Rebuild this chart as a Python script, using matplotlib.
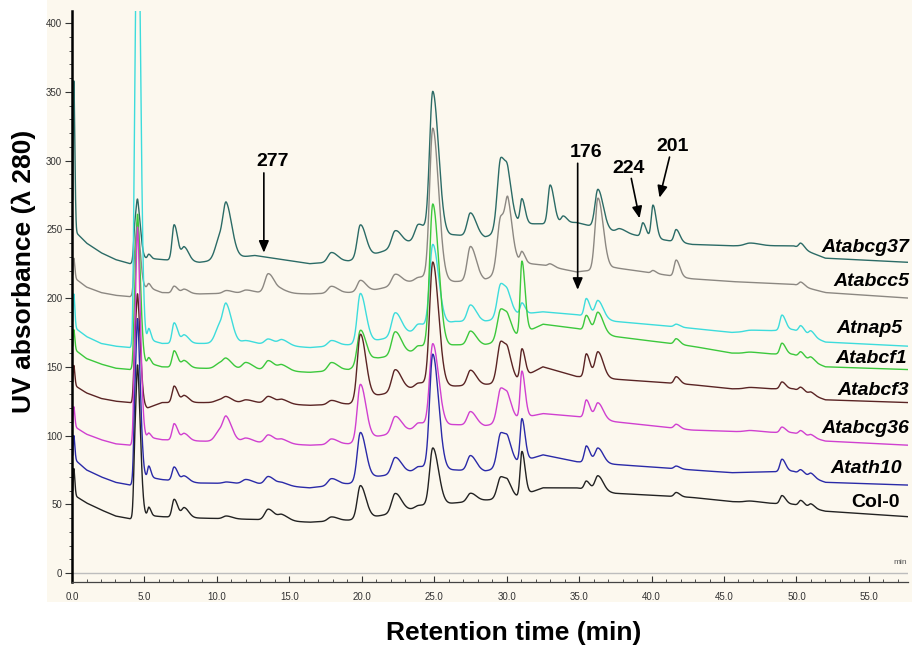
import numpy as np
import matplotlib.pyplot as plt
from matplotlib.ticker import MultipleLocator, FormatStrFormatter
from matplotlib.patches import Rectangle

plt.rcParams['font.family'] = ['Liberation Sans', 'DejaVu Sans']

# --------------------
# Data (retention time in min, UV absorbance)
# --------------------
samples = ["Atabcg37", "Atabcc5", "Atnap5", "Atabcf1", "Atabcf3", "Atabcg36", "Atath10", "Col-0"]

# shared peak retention times and widths (min)
peak_times = [0.12, 4.35, 4.55, 5.3, 7.05, 7.75, 10.2, 10.65, 12.0, 13.55, 14.5, 17.9,
              19.9, 22.3, 23.9, 24.9, 27.5, 29.6, 30.1, 31.05, 33.0, 33.9, 35.5, 36.3,
              37.8, 39.4, 40.1, 41.7, 46.8, 49.0, 50.3, 51.0]
peak_sigmas = [0.04, 0.09, 0.11, 0.08, 0.14, 0.17, 0.3, 0.22, 0.25, 0.24, 0.24, 0.24,
               0.21, 0.24, 0.24, 0.22, 0.22, 0.24, 0.17, 0.12, 0.15, 0.14, 0.14, 0.2,
               0.24, 0.12, 0.12, 0.14, 0.35, 0.14, 0.14, 0.14]

# baseline (valley) levels at these times
base_times = [0.25, 1.0, 2.0, 3.0, 4.0, 5.2, 6.2, 8.8, 12.6, 16.4, 19.1, 20.9, 24.3,
              26.4, 28.5, 30.7, 32.5, 34.8, 37.5, 42.8, 45.5, 49.8, 52.0, 57.7]

base_abcg37 = [248, 240, 233, 228, 225, 229, 228, 226, 231, 225, 227, 232, 244,
               246, 244, 254, 254, 255, 248, 239, 238, 238, 229, 226]
base_abcc5 = [214, 208, 204, 202, 201, 208, 204, 203, 204, 203, 204, 206, 214,
              212, 213, 226, 224, 219, 222, 214, 212, 210, 204, 200]
base_nap5 = [178, 172, 167, 165, 164, 170, 167, 167, 167, 164, 166, 169, 177,
             183, 183, 188, 190, 188, 183, 178, 175, 177, 168, 165]
base_abcf1 = [162, 156, 152, 149, 148, 153, 150, 149, 148, 146, 148, 156, 162,
              166, 166, 172, 181, 178, 172, 165, 160, 159, 150, 148]
base_abcf3 = [136, 131, 127, 125, 124, 120, 124, 124, 124, 122, 123, 129, 136,
              136, 137, 140, 150, 143, 141, 137, 134, 134, 126, 124]
base_abcg36 = [106, 101, 97, 94, 93, 99, 97, 96, 95, 93, 94, 99, 106,
               108, 107, 112, 116, 114, 110, 104, 103, 102, 96, 93]
base_ath10 = [82, 75, 70, 66, 64, 70, 68, 65.5, 65, 62, 65, 70, 75,
              75, 74, 80, 86, 81, 79, 75, 73, 74, 66, 64]
base_col0 = [56, 51, 46, 41.5, 39.5, 42, 41, 40, 39, 37, 38.5, 41, 48,
             51, 53, 55, 62, 62, 58, 55, 52, 50, 45, 41]

# peak heights above baseline, one per peak time
amp_abcg37 = [110, 25, 32, 3, 26, 10, 16, 30, 0, 0, 0, 7,
              24, 12, 11, 105, 17, 53, 16, 18, 28, 5, 0, 28,
              3, 10, 24, 9, 2, 0, 4, 0]
amp_abcc5 = [15, 28, 36, 3, 5, 3, 0, 2, 2, 14, 2, 5,
             8, 8, 2, 110, 25, 40, 30, 8, 2, 0, 0, 52,
             0, 0, 2, 12, 0, 0, 3, 0]
amp_nap5 = [25, 150, 300, 8, 15, 6, 13, 20, 2, 4, 4, 4,
            36, 17, 5, 60, 12, 25, 6, 8, 0, 0, 13, 13,
            0, 0, 0, 2, 1, 11, 5, 4]
amp_abcf1 = [15, 50, 85, 4, 12, 5, 4, 5, 5, 7, 4, 6,
             25, 17, 4, 105, 10, 23, 6, 53, 0, 0, 11, 15,
             0, 0, 0, 4, 1, 8, 4, 3]
amp_abcf3 = [15, 40, 60, 0, 12, 5, 2, 3, 2, 5, 3, 3,
             48, 16, 3, 90, 11, 30, 9, 21, 0, 0, 17, 19,
             0, 0, 0, 5, 1, 5, 3, 2]
amp_abcg36 = [15, 70, 120, 3, 12, 5, 8, 13, 3, 6, 3, 4,
              41, 12, 4, 60, 10, 25, 7, 34, 0, 0, 13, 12,
              0, 0, 0, 3, 1, 4, 3, 2]
amp_ath10 = [18, 55, 90, 8, 10, 4, 0, 1, 3, 6, 2, 5,
             35, 12, 3, 84, 11, 25, 8, 31, 0, 0, 12, 11,
             0, 0, 0, 2, 0, 9, 3, 3]
amp_col0 = [20, 50, 85, 6, 13, 7, 0, 2, 0, 8, 4, 3,
            24, 14, 2, 42, 6, 16, 5, 32, 0, 0, 6, 11,
            0, 0, 0, 3, 1, 6, 4, 3]

baselines = [base_abcg37, base_abcc5, base_nap5, base_abcf1,
             base_abcf3, base_abcg36, base_ath10, base_col0]
amplitudes = [amp_abcg37, amp_abcc5, amp_nap5, amp_abcf1,
              amp_abcf3, amp_abcg36, amp_ath10, amp_col0]

colors = ["#2B6B66", "#8C8882", "#3DDCDC", "#3CC83C",
          "#5A2424", "#D040D0", "#2A2AA8", "#222222"]
label_y = [237, 212, 178, 156, 133, 105, 76, 51]
label_x = [57.8, 57.8, 57.3, 57.6, 57.8, 57.8, 57.3, 57.1]

# arrows: label, text position, arrow tail, arrow tip
marks = ["277", "176", "224", "201"]
mark_text = [(13.86, 299), (35.5, 306), (38.4, 294.5), (41.45, 310)]
mark_tail = [(13.24, 291), (34.9, 298), (38.6, 287), (41.24, 302.5)]
mark_tip = [(13.24, 233), (34.9, 206), (39.17, 258), (40.55, 273)]


def build_trace(t, base, amps):
    y = np.interp(t, base_times, base)
    for t0, a, s in zip(peak_times, amps, peak_sigmas):
        if a == 0:
            continue
        sig = np.where(t < t0, s, s * 1.8)
        y = y + a * np.exp(-0.5 * ((t - t0) / sig) ** 2)
    return y


# --------------------
# Figure
# --------------------
fig = plt.figure(figsize=(9.21, 6.5), dpi=100)
fig.patch.set_facecolor("white")
fig.patches.append(Rectangle((0.051, 0.074), 0.939, 0.926, transform=fig.transFigure,
                             facecolor="#FCF8EE", edgecolor="none", zorder=-10))

ax = fig.add_axes([0.0782, 0.1046, 0.9077, 0.879])
ax.set_facecolor("none")

t = np.linspace(0.05, 57.7, 5000)
for name, base, amps, c in zip(samples, baselines, amplitudes, colors):
    ax.plot(t, build_trace(t, base, amps), color=c, lw=1.0)

ax.axhline(0, color="#BDBDBD", lw=1.0, zorder=0)

for name, x, y in zip(samples, label_x, label_y):
    style = "normal" if name == "Col-0" else "italic"
    ax.text(x, y, name, ha="right", va="center", fontsize=14, fontweight="bold",
            fontstyle=style, clip_on=False)

for m, txt, tail, tip in zip(marks, mark_text, mark_tail, mark_tip):
    ax.text(txt[0], txt[1], m, ha="center", va="center", fontsize=14, fontweight="bold")
    ax.annotate("", xy=tip, xytext=tail,
                arrowprops=dict(arrowstyle="-|>,head_length=0.7,head_width=0.3",
                                color="black", lw=1.2, shrinkA=0, shrinkB=0))

ax.text(57.6, 8, "min", ha="right", va="center", fontsize=6, color="#555555")

ax.set_xlim(0, 57.7)
ax.set_ylim(-6.5, 409)

ax.xaxis.set_major_locator(MultipleLocator(5))
ax.xaxis.set_minor_locator(MultipleLocator(1))
ax.xaxis.set_major_formatter(FormatStrFormatter("%.1f"))
ax.yaxis.set_major_locator(MultipleLocator(50))
ax.yaxis.set_minor_locator(MultipleLocator(10))

ax.tick_params(axis="x", which="major", direction="in", length=4, pad=7,
               labelsize=7, colors="#333333")
ax.tick_params(axis="x", which="minor", direction="in", length=2, colors="#333333")
ax.tick_params(axis="y", which="major", direction="out", length=5, pad=2,
               labelsize=7, colors="#333333")
ax.tick_params(axis="y", which="minor", direction="out", length=2.5, colors="#333333")

for side in ["top", "right"]:
    ax.spines[side].set_visible(False)
ax.spines["left"].set_linewidth(1.8)
ax.spines["left"].set_color("black")
ax.spines["bottom"].set_linewidth(0.9)
ax.spines["bottom"].set_color("#444444")

fig.text(0.026, 0.583, "UV absorbance (λ 280)", rotation=90, ha="center", va="center",
         fontsize=19, fontweight="bold")
fig.text(0.558, 0.026, "Retention time (min)", ha="center", va="center",
         fontsize=19, fontweight="bold")

plt.savefig("out.png", dpi=100)
